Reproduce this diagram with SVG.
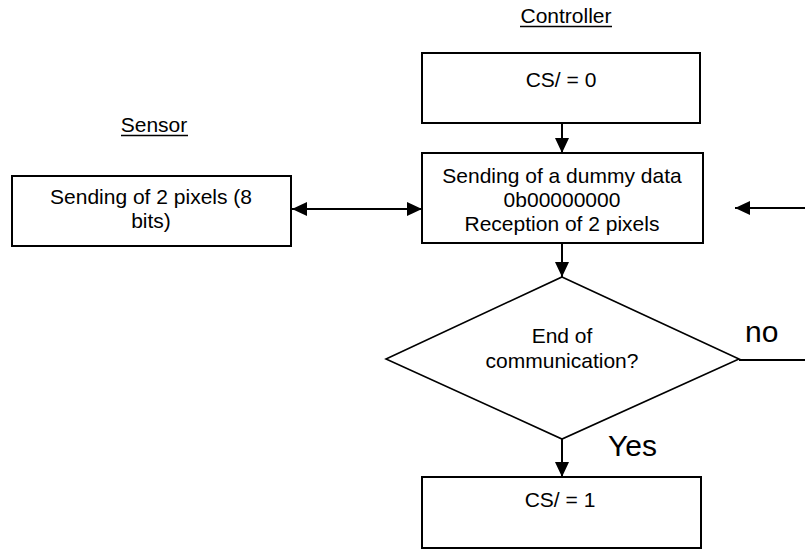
<svg xmlns="http://www.w3.org/2000/svg" width="805" height="549" viewBox="0 0 805 549">
<defs>
<style>
text{font-family:"Liberation Sans",Arial,sans-serif;fill:#000}
.t{font-size:21px;text-anchor:middle}
.big{font-size:30px}
.box{fill:#fff;stroke:#000;stroke-width:2}
.c{stroke:#000;stroke-width:2;fill:none}
</style>
<marker id="ah" markerUnits="userSpaceOnUse" markerWidth="16" markerHeight="14" refX="15" refY="7" orient="auto-start-reverse" viewBox="0 0 16 14">
<path d="M0,0 L15,7 L0,14 z" fill="#000"/>
</marker>
</defs>
<rect width="805" height="549" fill="#fff"/>
<g id="labels">
<text class="t" x="566" y="23">Controller</text>
<line x1="520" y1="26.5" x2="612" y2="26.5" stroke="#000" stroke-width="1.3"/>
<text class="t" x="154" y="132">Sensor</text>
<line x1="121" y1="135.5" x2="188" y2="135.5" stroke="#000" stroke-width="1.3"/>
</g>
<g id="connectors">
<line class="c" x1="562" y1="123" x2="562" y2="153" marker-end="url(#ah)"/>
<line class="c" x1="292" y1="209" x2="422" y2="209" marker-start="url(#ah)" marker-end="url(#ah)"/>
<line class="c" x1="805" y1="208" x2="735" y2="208" marker-end="url(#ah)"/>
<line class="c" x1="562" y1="243" x2="562" y2="277" marker-end="url(#ah)"/>
<line class="c" x1="739" y1="360" x2="805" y2="360"/>
<line class="c" x1="562" y1="439" x2="562" y2="477" marker-end="url(#ah)"/>
<text class="big" x="745" y="342">no</text>
<text class="big" x="608" y="456">Yes</text>
</g>
<g id="cs0">
<rect class="box" x="422" y="53" width="278" height="70"/>
<text class="t" x="561" y="87">CS/ = 0</text>
</g>
<g id="send-dummy">
<rect class="box" x="422" y="153" width="281" height="90"/>
<text class="t" x="562" y="183">Sending of a dummy data</text>
<text class="t" x="562" y="207">0b00000000</text>
<text class="t" x="562" y="231">Reception of 2 pixels</text>
</g>
<g id="sensor-send">
<rect class="box" x="12" y="176" width="279" height="70"/>
<text class="t" x="151" y="204">Sending of 2 pixels (8</text>
<text class="t" x="151" y="228">bits)</text>
</g>
<g id="decision">
<polygon points="562,277 739,359 562,439 386,359" fill="#fff" stroke="#000" stroke-width="1.6"/>
<text class="t" x="562" y="343">End of</text>
<text class="t" x="562" y="368">communication?</text>
</g>
<g id="cs1">
<rect class="box" x="422" y="477" width="279" height="71"/>
<text class="t" x="560" y="507">CS/ = 1</text>
</g>
</svg>
